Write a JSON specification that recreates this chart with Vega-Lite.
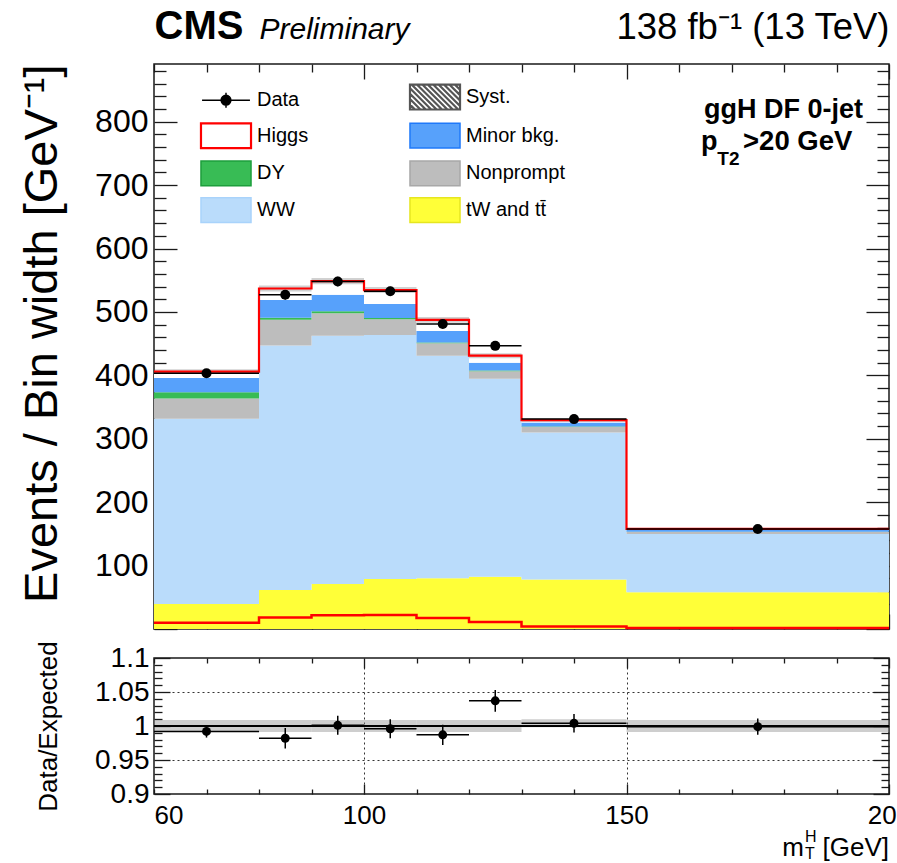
{
  "$schema": "https://vega.github.io/schema/vega-lite/v6.json",
  "background": "white",
  "padding": {"left": 17, "top": 5, "right": 0, "bottom": 0},
  "bounds": "flush",
  "spacing": 29,
  "config": {
    "font": "Liberation Sans",
    "view": {"stroke": "#1a1a1a", "strokeWidth": 1.5},
    "axis": {
      "domain": false,
      "grid": false,
      "labelFont": "Liberation Sans",
      "titleFont": "Liberation Sans",
      "labelColor": "#000000",
      "titleColor": "#000000",
      "tickColor": "#1a1a1a",
      "tickWidth": 1.3,
      "titleFontWeight": "normal",
      "labelOverlap": false,
      "labelFlush": false
    }
  },
  "datasets": {
    "components": [
      {"edge": 60, "process": "tW and tt\u0304", "value": 39.5},
      {"edge": 60, "process": "WW", "value": 292},
      {"edge": 60, "process": "Nonprompt", "value": 32},
      {"edge": 60, "process": "DY", "value": 10},
      {"edge": 60, "process": "Minor bkg.", "value": 22.5},
      {"edge": 60, "process": "Higgs", "value": 10},
      {"edge": 80, "process": "tW and tt\u0304", "value": 61.5},
      {"edge": 80, "process": "WW", "value": 385.5},
      {"edge": 80, "process": "Nonprompt", "value": 40.5},
      {"edge": 80, "process": "DY", "value": 3.5},
      {"edge": 80, "process": "Minor bkg.", "value": 28},
      {"edge": 80, "process": "Higgs", "value": 18},
      {"edge": 90, "process": "tW and tt\u0304", "value": 71},
      {"edge": 90, "process": "WW", "value": 391.5},
      {"edge": 90, "process": "Nonprompt", "value": 35.5},
      {"edge": 90, "process": "DY", "value": 3},
      {"edge": 90, "process": "Minor bkg.", "value": 26},
      {"edge": 90, "process": "Higgs", "value": 21.5},
      {"edge": 100, "process": "tW and tt\u0304", "value": 79},
      {"edge": 100, "process": "WW", "value": 384.5},
      {"edge": 100, "process": "Nonprompt", "value": 25},
      {"edge": 100, "process": "DY", "value": 2},
      {"edge": 100, "process": "Minor bkg.", "value": 22},
      {"edge": 100, "process": "Higgs", "value": 22},
      {"edge": 110, "process": "tW and tt\u0304", "value": 80},
      {"edge": 110, "process": "WW", "value": 351},
      {"edge": 110, "process": "Nonprompt", "value": 19.5},
      {"edge": 110, "process": "DY", "value": 1.5},
      {"edge": 110, "process": "Minor bkg.", "value": 18},
      {"edge": 110, "process": "Higgs", "value": 17.5},
      {"edge": 120, "process": "tW and tt\u0304", "value": 82.5},
      {"edge": 120, "process": "WW", "value": 312},
      {"edge": 120, "process": "Nonprompt", "value": 12},
      {"edge": 120, "process": "DY", "value": 1},
      {"edge": 120, "process": "Minor bkg.", "value": 12.5},
      {"edge": 120, "process": "Higgs", "value": 11},
      {"edge": 130, "process": "tW and tt\u0304", "value": 78},
      {"edge": 130, "process": "WW", "value": 232},
      {"edge": 130, "process": "Nonprompt", "value": 8.5},
      {"edge": 130, "process": "DY", "value": 1},
      {"edge": 130, "process": "Minor bkg.", "value": 6},
      {"edge": 130, "process": "Higgs", "value": 4},
      {"edge": 150, "process": "tW and tt\u0304", "value": 58},
      {"edge": 150, "process": "WW", "value": 92},
      {"edge": 150, "process": "Nonprompt", "value": 3},
      {"edge": 150, "process": "DY", "value": 0.5},
      {"edge": 150, "process": "Minor bkg.", "value": 3},
      {"edge": 150, "process": "Higgs", "value": 1.5},
      {"edge": 200, "process": "tW and tt\u0304", "value": 58},
      {"edge": 200, "process": "WW", "value": 92},
      {"edge": 200, "process": "Nonprompt", "value": 3},
      {"edge": 200, "process": "DY", "value": 0.5},
      {"edge": 200, "process": "Minor bkg.", "value": 3},
      {"edge": 200, "process": "Higgs", "value": 1.5}
    ],
    "bins": [
      {"lo": 60, "hi": 80, "mid": 70, "data": 403.3, "dataLo": 398.8, "dataHi": 407.8, "systLo": 402.3, "systHi": 409.7, "ratio": 0.992, "ratioLo": 0.983, "ratioHi": 1.001, "bandLo": 0.991, "bandHi": 1.009},
      {"lo": 80, "hi": 90, "mid": 85, "data": 527, "dataLo": 519.7, "dataHi": 534.3, "systLo": 532.2, "systHi": 541.8, "ratio": 0.982, "ratioLo": 0.967, "ratioHi": 0.997, "bandLo": 0.991, "bandHi": 1.009},
      {"lo": 90, "hi": 100, "mid": 95, "data": 548, "dataLo": 540.6, "dataHi": 555.4, "systLo": 543.6, "systHi": 553.4, "ratio": 1.001, "ratioLo": 0.987, "ratioHi": 1.015, "bandLo": 0.991, "bandHi": 1.009},
      {"lo": 100, "hi": 110, "mid": 105, "data": 532.5, "dataLo": 525.2, "dataHi": 539.8, "systLo": 529.7, "systHi": 539.3, "ratio": 0.996, "ratioLo": 0.982, "ratioHi": 1.01, "bandLo": 0.991, "bandHi": 1.009},
      {"lo": 110, "hi": 120, "mid": 115, "data": 481, "dataLo": 474.1, "dataHi": 487.9, "systLo": 483.1, "systHi": 491.9, "ratio": 0.987, "ratioLo": 0.972, "ratioHi": 1.002, "bandLo": 0.991, "bandHi": 1.009},
      {"lo": 120, "hi": 130, "mid": 125, "data": 446.5, "dataLo": 439.8, "dataHi": 453.2, "systLo": 427.1, "systHi": 434.9, "ratio": 1.037, "ratioLo": 1.021, "ratioHi": 1.053, "bandLo": 0.991, "bandHi": 1.009},
      {"lo": 130, "hi": 150, "mid": 140, "data": 331, "dataLo": 325.2, "dataHi": 336.8, "systLo": 326.5, "systHi": 332.5, "ratio": 1.004, "ratioLo": 0.9905, "ratioHi": 1.0175, "bandLo": 0.998, "bandHi": 1.01},
      {"lo": 150, "hi": 200, "mid": 175, "data": 157.8, "dataLo": 153.4, "dataHi": 162.2, "systLo": 156.6, "systHi": 159.4, "ratio": 0.999, "ratioLo": 0.987, "ratioHi": 1.011, "bandLo": 0.991, "bandHi": 1.009}
    ],
    "edges": [
      {"edge": 60, "total": 406, "higgs": 10},
      {"edge": 80, "total": 537, "higgs": 18},
      {"edge": 90, "total": 548.5, "higgs": 21.5},
      {"edge": 100, "total": 534.5, "higgs": 22},
      {"edge": 110, "total": 487.5, "higgs": 17.5},
      {"edge": 120, "total": 431, "higgs": 11},
      {"edge": 130, "total": 329.5, "higgs": 4},
      {"edge": 150, "total": 158, "higgs": 1.5},
      {"edge": 200, "total": 158, "higgs": 1.5}
    ]
  },
  "vconcat": [
    {
      "width": 735,
      "height": 565,
      "resolve": {"axis": {"x": "independent", "y": "independent"}},
      "layer": [
        {
          "data": {"name": "components"},
          "transform": [
            {"calculate": "indexof(['tW and tt\u0304', 'WW', 'Nonprompt', 'DY', 'Minor bkg.', 'Higgs'], datum.process)", "as": "layerRank"},
            {"stack": "value", "groupby": ["edge"], "sort": [{"field": "layerRank", "order": "ascending"}], "as": ["base", "top"]}
          ],
          "mark": {"type": "area", "interpolate": "step-after", "opacity": 1},
          "encoding": {
            "x": {
              "field": "edge", "type": "quantitative",
              "scale": {"domain": [60, 200], "nice": false, "zero": false},
              "axis": {"orient": "bottom", "values": [60, 70, 80, 90, 100, 110, 120, 130, 140, 150, 160, 170, 180, 190, 200], "labels": false, "title": null,
                "tickSize": {"condition": {"test": "datum.value % 50 === 0", "value": -15}, "value": -8}}
            },
            "y": {
              "field": "base", "type": "quantitative",
              "scale": {"domain": [0, 891], "nice": false, "zero": false},
              "axis": {"orient": "left", "values": [100, 200, 300, 400, 500, 600, 700, 800], "ticks": false, "labelPadding": 6, "labelFontSize": 32,
                "title": "Events / Bin width [GeV\u207b\u00b9]", "titleFontSize": 47, "titlePadding": 28, "titleAnchor": "end"}
            },
            "y2": {"field": "top"},
            "color": {
              "field": "process", "type": "nominal",
              "scale": {
                "domain": ["Data", "Higgs", "DY", "WW", "Syst.", "Minor bkg.", "Nonprompt", "tW and tt\u0304"],
                "range": ["#000000", "#ffffff", "#38bc55", "#badcfb", "#ffffff", "#57a1fb", "#bdbdbd", "#ffff38"]
              },
              "legend": {
                "orient": "none", "legendX": 62, "legendY": 23, "columns": 2, "title": null,
                "symbolSize": 1296,
                "symbolType": {"expr": "datum.value === 'Data' ? 'M-1.33,0H1.33M0,-0.42V0.42M-0.27,0A0.27,0.27 0 1,0 0.27,0A0.27,0.27 0 1,0 -0.27,0' : datum.value === 'Syst.' ? 'M-1.39,-0.69H1.39V0.69H-1.39ZM1.11,-0.69L1.39,-0.41M0.81,-0.69L1.39,-0.11M0.51,-0.69L1.39,0.19M0.21,-0.69L1.39,0.49M-0.09,-0.69L1.29,0.69M-0.39,-0.69L0.99,0.69M-0.69,-0.69L0.69,0.69M-0.99,-0.69L0.39,0.69M-1.29,-0.69L0.09,0.69M-1.39,-0.49L-0.21,0.69M-1.39,-0.19L-0.51,0.69M-1.39,0.11L-0.81,0.69M-1.39,0.41L-1.11,0.69' : 'M-1.39,-0.69H1.39V0.69H-1.39Z'"},
                "symbolStrokeColor": {"expr": "datum.value === 'Data' ? '#000000' : datum.value === 'Syst.' ? '#555555' : datum.value === 'Higgs' ? '#ff0000' : datum.value === 'Minor bkg.' ? '#1f79fa' : datum.value === 'DY' ? '#1d9e3c' : datum.value === 'Nonprompt' ? '#a8a8a8' : datum.value === 'WW' ? '#a9d3fb' : '#e6e620'"},
                "symbolStrokeWidth": {"expr": "datum.value === 'Higgs' || datum.value === 'Syst.' ? 2.2 : 1.5"},
                "symbolOpacity": 1,
                "labelFontSize": 20, "labelFont": "Liberation Sans", "labelColor": "#000000",
                "labelOffset": 21, "rowPadding": 4.7, "columnPadding": 96
              }
            }
          }
        },
        {
          "data": {"name": "bins"},
          "mark": {"type": "rect", "fill": "#666666", "opacity": 0.3},
          "encoding": {
            "x": {"field": "lo", "type": "quantitative",
              "axis": {"orient": "top", "values": [60, 70, 80, 90, 100, 110, 120, 130, 140, 150, 160, 170, 180, 190, 200], "labels": false, "title": null,
                "tickSize": {"condition": {"test": "datum.value % 50 === 0", "value": -15}, "value": -8}}},
            "x2": {"field": "hi"},
            "y": {"field": "systLo", "type": "quantitative",
              "axis": {"orient": "left", "values": [0, 20, 40, 60, 80, 100, 120, 140, 160, 180, 200, 220, 240, 260, 280, 300, 320, 340, 360, 380, 400, 420, 440, 460, 480, 500, 520, 540, 560, 580, 600, 620, 640, 660, 680, 700, 720, 740, 760, 780, 800, 820, 840, 860, 880], "labels": false, "title": null,
                "tickSize": {"condition": {"test": "datum.value % 100 === 0", "value": -23}, "value": -12}}},
            "y2": {"field": "systHi"}
          }
        },
        {
          "data": {"name": "edges"},
          "mark": {"type": "line", "interpolate": "step-after", "color": "#ff0000", "strokeWidth": 2.2},
          "encoding": {
            "x": {"field": "edge", "type": "quantitative",
              "axis": {"orient": "top", "ticks": false, "labels": false, "title": "138 fb\u207b\u00b9 (13 TeV)", "titleAnchor": "end", "titleFontSize": 36.5, "titleBaseline": "alphabetic", "titlePadding": 26}},
            "y": {"field": "total", "type": "quantitative",
              "axis": {"orient": "right", "values": [0, 20, 40, 60, 80, 100, 120, 140, 160, 180, 200, 220, 240, 260, 280, 300, 320, 340, 360, 380, 400, 420, 440, 460, 480, 500, 520, 540, 560, 580, 600, 620, 640, 660, 680, 700, 720, 740, 760, 780, 800, 820, 840, 860, 880], "labels": false, "title": null,
                "tickSize": {"condition": {"test": "datum.value % 100 === 0", "value": -23}, "value": -12}}}
          }
        },
        {
          "data": {"name": "edges"},
          "mark": {"type": "line", "interpolate": "step-after", "color": "#ff0000", "strokeWidth": 2.5},
          "encoding": {
            "x": {"field": "edge", "type": "quantitative",
              "axis": {"orient": "top", "ticks": false, "labels": false, "title": "CMS", "titleAnchor": "start", "titleFontSize": 40, "titleFontWeight": "bold", "titleBaseline": "alphabetic", "titlePadding": 26}},
            "y": {"field": "higgs", "type": "quantitative", "axis": null}
          }
        },
        {
          "data": {"name": "bins"},
          "mark": {"type": "rule", "color": "#000000", "strokeWidth": 1.5},
          "encoding": {
            "x": {"field": "lo", "type": "quantitative",
              "axis": {"orient": "top", "ticks": false, "labels": false, "title": "Preliminary", "titleAnchor": "start", "titleAlign": "left", "titleX": 105, "titleFontSize": 30, "titleFontStyle": "italic", "titleBaseline": "alphabetic", "titlePadding": 26}},
            "x2": {"field": "hi"},
            "y": {"field": "data", "type": "quantitative", "axis": null}
          }
        },
        {
          "data": {"name": "bins"},
          "mark": {"type": "rule", "color": "#000000", "strokeWidth": 1.5},
          "encoding": {
            "x": {"field": "mid", "type": "quantitative", "axis": null},
            "y": {"field": "dataLo", "type": "quantitative", "axis": null},
            "y2": {"field": "dataHi"}
          }
        },
        {
          "data": {"name": "bins"},
          "mark": {"type": "point", "filled": true, "color": "#000000", "opacity": 1, "size": 100},
          "encoding": {
            "x": {"field": "mid", "type": "quantitative", "axis": null},
            "y": {"field": "data", "type": "quantitative", "axis": null}
          }
        },
        {
          "data": {"values": [{}]},
          "mark": {"type": "text", "text": "ggH DF 0-jet", "fontWeight": "bold", "fontSize": 27, "align": "right", "baseline": "alphabetic", "color": "#000000"},
          "encoding": {
            "x": {"datum": 195.05, "type": "quantitative", "axis": null},
            "y": {"datum": 806, "type": "quantitative", "axis": null}
          }
        },
        {
          "data": {"values": [{}]},
          "mark": {"type": "text", "text": "p", "fontWeight": "bold", "fontSize": 27, "align": "left", "baseline": "alphabetic", "color": "#000000"},
          "encoding": {
            "x": {"datum": 164.2, "type": "quantitative", "axis": null},
            "y": {"datum": 756, "type": "quantitative", "axis": null}
          }
        },
        {
          "data": {"values": [{}]},
          "mark": {"type": "text", "text": "T2", "fontWeight": "bold", "fontSize": 19, "align": "left", "baseline": "alphabetic", "color": "#000000"},
          "encoding": {
            "x": {"datum": 167.3, "type": "quantitative", "axis": null},
            "y": {"datum": 731, "type": "quantitative", "axis": null}
          }
        },
        {
          "data": {"values": [{}]},
          "mark": {"type": "text", "text": ">20 GeV", "fontWeight": "bold", "fontSize": 27.5, "align": "left", "baseline": "alphabetic", "color": "#000000"},
          "encoding": {
            "x": {"datum": 172.2, "type": "quantitative", "axis": null},
            "y": {"datum": 756, "type": "quantitative", "axis": null}
          }
        }
      ]
    },
    {
      "width": 735,
      "height": 136,
      "resolve": {"axis": {"x": "independent", "y": "independent"}},
      "layer": [
        {
          "data": {"name": "bins"},
          "mark": {"type": "rect", "fill": "#8a8a8a", "opacity": 0.42},
          "encoding": {
            "x": {"field": "lo", "type": "quantitative",
              "scale": {"domain": [60, 200], "nice": false, "zero": false},
              "axis": {"orient": "bottom", "values": [60, 100, 150, 200], "ticks": false, "labelPadding": 8, "labelFontSize": 26, "title": null,
                "labelAlign": {"condition": {"test": "datum.value === 60", "value": "left"}, "value": "center"}}},
            "x2": {"field": "hi"},
            "y": {"field": "bandLo", "type": "quantitative",
              "scale": {"domain": [0.9, 1.1], "nice": false, "zero": false},
              "axis": {"orient": "left", "values": [0.9, 0.95, 1, 1.05, 1.1], "format": "~g", "ticks": false, "labelPadding": 5, "labelFontSize": 28,
                "title": "Data/Expected", "titleFontSize": 26, "titlePadding": 33}},
            "y2": {"field": "bandHi"}
          }
        },
        {
          "data": {"values": [{}]},
          "mark": {"type": "rule", "color": "#000000", "strokeWidth": 2},
          "encoding": {"y": {"datum": 1, "type": "quantitative", "axis": null}}
        },
        {
          "data": {"name": "bins"},
          "mark": {"type": "rule", "color": "#000000", "strokeWidth": 1.5},
          "encoding": {
            "x": {"field": "lo", "type": "quantitative",
              "axis": {"orient": "bottom", "values": [60, 70, 80, 90, 100, 110, 120, 130, 140, 150, 160, 170, 180, 190, 200], "labels": false, "title": null,
                "tickSize": {"condition": {"test": "datum.value % 50 === 0", "value": -10}, "value": -5}}},
            "x2": {"field": "hi"},
            "y": {"field": "ratio", "type": "quantitative",
              "axis": {"orient": "left", "values": [0.9, 0.91, 0.92, 0.93, 0.94, 0.95, 0.96, 0.97, 0.98, 0.99, 1, 1.01, 1.02, 1.03, 1.04, 1.05, 1.06, 1.07, 1.08, 1.09, 1.1], "labels": false, "title": null,
                "tickSize": {"condition": {"test": "round(datum.value * 100) % 5 === 0", "value": -16}, "value": -8}}}
          }
        },
        {
          "data": {"name": "bins"},
          "mark": {"type": "rule", "color": "#000000", "strokeWidth": 1.5},
          "encoding": {
            "x": {"field": "mid", "type": "quantitative",
              "axis": {"orient": "top", "values": [60, 70, 80, 90, 100, 110, 120, 130, 140, 150, 160, 170, 180, 190, 200], "labels": false, "title": null,
                "tickSize": {"condition": {"test": "datum.value % 50 === 0", "value": -10}, "value": -5}}},
            "y": {"field": "ratioLo", "type": "quantitative",
              "axis": {"orient": "right", "values": [0.9, 0.91, 0.92, 0.93, 0.94, 0.95, 0.96, 0.97, 0.98, 0.99, 1, 1.01, 1.02, 1.03, 1.04, 1.05, 1.06, 1.07, 1.08, 1.09, 1.1], "labels": false, "title": null,
                "tickSize": {"condition": {"test": "round(datum.value * 100) % 5 === 0", "value": -16}, "value": -8}}},
            "y2": {"field": "ratioHi"}
          }
        },
        {
          "data": {"name": "bins"},
          "mark": {"type": "point", "filled": true, "color": "#000000", "opacity": 1, "size": 80},
          "encoding": {
            "x": {"field": "mid", "type": "quantitative",
              "axis": {"orient": "top", "values": [100, 150], "ticks": false, "labels": false, "title": null, "grid": true, "gridDash": [2, 3], "gridColor": "#333333", "gridWidth": 1}},
            "y": {"field": "ratio", "type": "quantitative",
              "axis": {"orient": "right", "values": [0.95, 1.05], "ticks": false, "labels": false, "title": null, "grid": true, "gridDash": [2, 3], "gridColor": "#333333", "gridWidth": 1}}
          }
        },
        {
          "data": {"values": [{}]},
          "mark": {"type": "text", "text": "[GeV]", "fontSize": 26, "align": "right", "baseline": "alphabetic", "color": "#000000"},
          "encoding": {
            "x": {"datum": 200, "type": "quantitative", "axis": null},
            "y": {"datum": 0.809, "type": "quantitative", "axis": null}
          }
        },
        {
          "data": {"values": [{}]},
          "mark": {"type": "text", "text": "m", "fontSize": 26, "align": "right", "baseline": "alphabetic", "color": "#000000"},
          "encoding": {
            "x": {"datum": 183.8, "type": "quantitative", "axis": null},
            "y": {"datum": 0.809, "type": "quantitative", "axis": null}
          }
        },
        {
          "data": {"values": [{}]},
          "mark": {"type": "text", "text": "H", "fontSize": 16, "align": "left", "baseline": "alphabetic", "color": "#000000"},
          "encoding": {
            "x": {"datum": 184, "type": "quantitative", "axis": null},
            "y": {"datum": 0.8295, "type": "quantitative", "axis": null}
          }
        },
        {
          "data": {"values": [{}]},
          "mark": {"type": "text", "text": "T", "fontSize": 16, "align": "left", "baseline": "alphabetic", "color": "#000000"},
          "encoding": {
            "x": {"datum": 184, "type": "quantitative", "axis": null},
            "y": {"datum": 0.8045, "type": "quantitative", "axis": null}
          }
        }
      ]
    }
  ]
}
